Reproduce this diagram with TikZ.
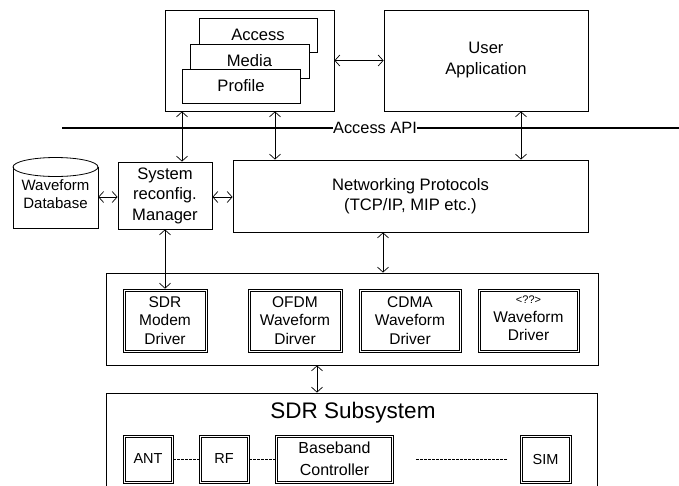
\documentclass[tikz,border=0pt]{standalone}
\usepackage{fontspec}
\setmainfont{Liberation Sans}
\usetikzlibrary{arrows.meta}
\begin{document}
\begin{tikzpicture}[x=1pt,y=-1pt,
  every node/.style={font=\fontsize{16.6}{20.5}\selectfont, align=center, inner sep=0pt},
  box/.style={draw, line width=0.8pt, fill=white},
  card/.style={box, minimum width=118, minimum height=34},
  % framed box with a second, inset outline
  framed/.style={draw, line width=0.6pt, fill=white,
    path picture={\draw[line width=0.6pt]
      ([shift={(#1,-#1)}]path picture bounding box.north west) rectangle
      ([shift={(-#1,#1)}]path picture bounding box.south east);}},
  drvbox/.style={framed=2pt, minimum height=63, font=\fontsize{15.5}{18.5}\selectfont},
  subbox/.style={framed=1.8pt, minimum height=48, font=\fontsize{14.5}{21}\selectfont},
  biarrow/.style={line width=0.7pt, {Straight Barb[length=5pt,width=11pt]}-{Straight Barb[length=5pt,width=11pt]}},
  link/.style={line width=0.7pt, dash pattern=on 2.5pt off 1.5pt}
]
\useasboundingbox (0,0) rectangle (679,485);

% upper layer: profiles and user application
\node[box, minimum width=169, minimum height=101] (profiles) at (249.5,60.5) {};
\node[card] (access)  at (258,35)   {Access};
\node[card, minimum width=119] (media) at (249.5,61) {Media};
\node[card] (profile) at (241,86)   {Profile};
\node[box, minimum width=204, minimum height=101] (userapp) at (486,60.5) {User\\[0.5pt]Application};

% access API bar
\node[font=\fontsize{16.4}{19}\selectfont, inner xsep=0.3pt] (api) at (375,128) {Access API};
\coordinate (apiL) at (62,128);
\coordinate (apiR) at (679,128);
\draw[line width=2.4pt] (apiL) -- (api.west);
\draw[line width=2.4pt] (api.east) -- (apiR);

% middle layer: waveform store drawn as a cylinder
\draw[line width=0.8pt] (13,167) -- (13,228) -- (98,228) -- (98,167);
\draw[line width=0.8pt] (55.5,167) ellipse [x radius=42.5pt, y radius=9.5pt];
\node[minimum width=85, minimum height=70, font=\fontsize{15}{18}\selectfont] (db) at (55.5,194) {Waveform\\Database};

\node[box, minimum width=94, minimum height=67] (sys) at (165,195.5) {System\\reconfig.\\Manager};
\node[box, minimum width=355, minimum height=72] (net) at (410.5,196) {Networking Protocols\\[-1pt](TCP/IP, MIP etc.)};

% driver layer
\node[box, minimum width=492, minimum height=92] (drivers) at (352,319) {};
\node[drvbox, minimum width=84]  (sdrm)  at (165,320.5) {SDR\\Modem\\Driver};
\node[drvbox, minimum width=94]  (ofdm)  at (295,320.5) {OFDM\\Waveform\\Dirver};
\node[drvbox, minimum width=102] (cdma)  at (410,320.5) {CDMA\\Waveform\\Driver};
\node[drvbox, minimum width=101] (other) at (528.5,320.5) {};
\node[font=\fontsize{15.5}{18.5}\selectfont] (otherText) at (528.5,318.5) {{\fontsize{11}{15}\selectfont <??>}\\Waveform\\Driver};

% SDR subsystem
\node[box, minimum width=491, minimum height=99] (subsys) at (351.5,442.5) {};
\node[font=\fontsize{22.5}{26}\selectfont] (subtitle) at (353,413) {SDR Subsystem};
\node[subbox, minimum width=50]  (ant) at (148,459)   {ANT};
\node[subbox, minimum width=50]  (rf)  at (224,459)   {RF};
\node[subbox, minimum width=118, font=\fontsize{16}{21.5}\selectfont] (bb) at (334.5,459) {Baseband\\Controller};
\node[subbox, minimum width=51]  (sim) at (545.5,459) {SIM};
\coordinate (gapL) at (416,459);
\coordinate (gapR) at (507,459);
\draw[link] (ant.east) -- (rf.west);
\draw[link] (rf.east) -- (bb.west);
\draw[link] (gapL) -- (gapR);

% connectors
\draw[biarrow] (profiles.east) -- (userapp.west);
\draw[biarrow] (182,0 |- profiles.south) -- (182,0 |- sys.north);
\draw[biarrow] (275,0 |- profiles.south) -- (275,0 |- net.north);
\draw[biarrow] (521,0 |- userapp.south) -- (521,0 |- net.north);
\draw[biarrow] (db.east |- 0,197) -- (sys.west |- 0,197);
\draw[biarrow] (sys.east |- 0,197) -- (net.west |- 0,197);
\draw[biarrow] (sys.south) -- (sdrm.north);
\draw[biarrow] (383,0 |- net.south) -- (383,0 |- drivers.north);
\draw[biarrow] (317,0 |- drivers.south) -- (317,0 |- subsys.north);
\end{tikzpicture}
\end{document}
